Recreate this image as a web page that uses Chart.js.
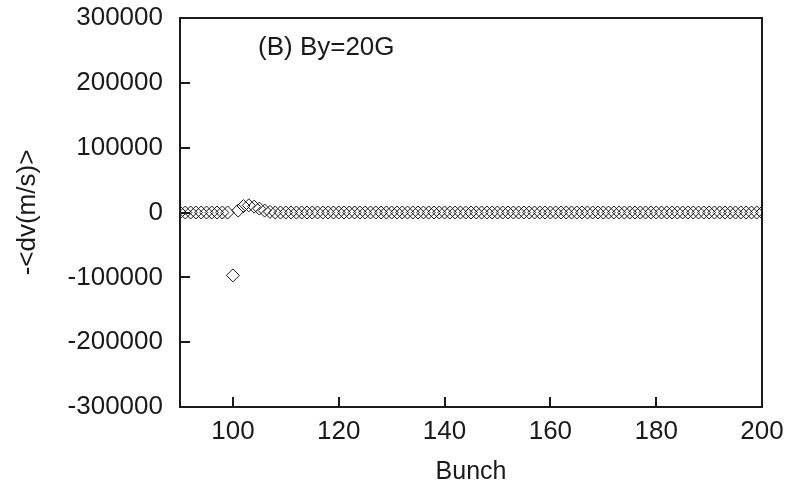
<!DOCTYPE html>
<html>
<head>
<meta charset="utf-8">
<script src="https://cdn.jsdelivr.net/npm/chart.js@4/dist/chart.umd.min.js"></script>
<style>
  html, body { margin: 0; padding: 0; background: #fff; }
  #wrap { width: 787px; height: 491px; }
</style>
</head>
<body>
<div id="wrap"><canvas id="dvChart" width="787" height="491"></canvas></div>
<script>
// Data
const bunches = [];
for (let b = 90; b <= 200; b++) bunches.push(b);

const dvValues = [
  0, 0, 0, 0, 0, 0, 0, 0, 0, 0,          // 90-99
  -97000, 3000, 10000, 11000, 9000, 6000, 3000, 1000, 0, 0, // 100-109
  0, 0, 0, 0, 0, 0, 0, 0, 0, 0,          // 110-119
  0, 0, 0, 0, 0, 0, 0, 0, 0, 0,          // 120-129
  0, 0, 0, 0, 0, 0, 0, 0, 0, 0,          // 130-139
  0, 0, 0, 0, 0, 0, 0, 0, 0, 0,          // 140-149
  0, 0, 0, 0, 0, 0, 0, 0, 0, 0,          // 150-159
  0, 0, 0, 0, 0, 0, 0, 0, 0, 0,          // 160-169
  0, 0, 0, 0, 0, 0, 0, 0, 0, 0,          // 170-179
  0, 0, 0, 0, 0, 0, 0, 0, 0, 0,          // 180-189
  0, 0, 0, 0, 0, 0, 0, 0, 0, 0, 0        // 190-200
];

const xTicks = [100, 120, 140, 160, 180, 200];
const yTicks = [-300000, -200000, -100000, 0, 100000, 200000, 300000];
const annotation = '(B) By=20G';

const points = bunches.map((b, i) => ({ x: b, y: dvValues[i] }));

const FONT = "'Liberation Sans', Arial, sans-serif";
const INK = '#1a1a1a';

// frame, inward tick marks and label text
const framePlugin = {
  id: 'frame',
  afterDraw(chart) {
    const ctx = chart.ctx;
    const a = chart.chartArea;
    const xs = chart.scales.x, ys = chart.scales.y;
    ctx.save();
    ctx.strokeStyle = INK;
    ctx.lineWidth = 2;
    ctx.strokeRect(a.left, a.top, a.right - a.left, a.bottom - a.top);
    ctx.beginPath();
    xTicks.forEach(v => {
      const px = Math.round(xs.getPixelForValue(v));
      ctx.moveTo(px, a.bottom);
      ctx.lineTo(px, a.bottom - 10);
    });
    yTicks.forEach(v => {
      const py = Math.round(ys.getPixelForValue(v));
      ctx.moveTo(a.left, py);
      ctx.lineTo(a.left + 10, py);
    });
    ctx.stroke();
    ctx.fillStyle = INK;
    ctx.font = '26px ' + FONT;
    ctx.textAlign = 'left';
    ctx.textBaseline = 'middle';
    ctx.fillText(annotation, 258, 48);
    ctx.restore();
  }
};

new Chart(document.getElementById('dvChart').getContext('2d'), {
  type: 'scatter',
  data: {
    datasets: [{
      data: points,
      pointStyle: 'rectRot',
      pointRadius: 6.5,
      pointHoverRadius: 6.5,
      pointBorderWidth: 1,
      borderColor: INK,
      backgroundColor: 'rgba(0,0,0,0)',
      showLine: false
    }]
  },
  options: {
    responsive: false,
    animation: false,
    layout: { padding: { top: 18, right: 25, left: 0, bottom: 0 } },
    plugins: { legend: { display: false }, tooltip: { enabled: false } },
    scales: {
      x: {
        type: 'linear',
        min: 90, max: 200,
        afterBuildTicks: s => { s.ticks = xTicks.map(v => ({ value: v })); },
        afterFit: s => { s.height = 84; s.paddingLeft = 0; s.paddingRight = 0; },
        grid: { display: false, drawTicks: false },
        border: { display: false },
        ticks: { padding: 9, color: INK, font: { family: FONT, size: 26 } },
        title: { display: true, text: 'Bunch', color: INK, font: { family: FONT, size: 25 }, padding: { top: 0, bottom: 4 } }
      },
      y: {
        min: -300000, max: 300000,
        afterBuildTicks: s => { s.ticks = yTicks.map(v => ({ value: v })); },
        afterFit: s => { s.width = 180; s.paddingTop = 0; s.paddingBottom = 0; },
        grid: { display: false, drawTicks: false },
        border: { display: false },
        ticks: { padding: 17, color: INK, font: { family: FONT, size: 26 }, callback: v => String(v) },
        title: { display: true, text: '-<dv(m/s)>', color: INK, font: { family: FONT, size: 26 }, padding: { top: 12, bottom: 0 } }
      }
    }
  },
  plugins: [framePlugin]
});
</script>
</body>
</html>
